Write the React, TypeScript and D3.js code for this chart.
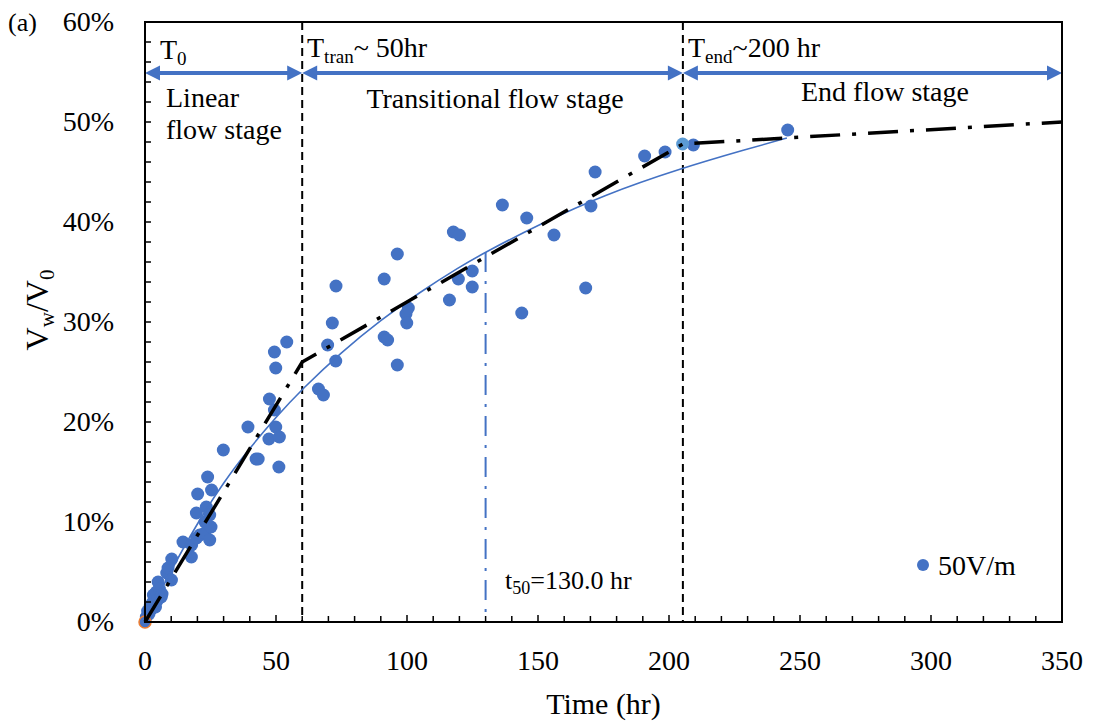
import React from "react";
import * as d3 from "d3";

const W = 1093;
const H = 724;
const M = { left: 145, top: 22, right: 1062, bottom: 622 };

// scatter data (time hr, Vw/V0 %)
const pointsT = [
  0.5, 1, 1.5, 2, 2.5, 3, 3.2, 4, 4.3, 4.8, 5, 5.5, 6.2, 6.5, 8.3, 8.8, 10.1, 10.2,
  14.5, 17.7, 17.8, 19.6, 20.1, 19.7, 20.9, 22.8, 22.9, 23.4, 23.9, 24.7, 24.7, 25.2, 25.4,
  29.9, 39.3, 42.4, 43.2, 47.3, 47.5, 49.4, 49.4, 49.9, 49.9, 51.1, 51.3, 54.1,
  66.2, 68.1, 69.7, 71.5, 72.8, 72.9, 91.3, 91.3, 92.6, 96.3, 96.3, 99.6, 99.9, 100.5,
  116.2, 117.7, 119.6, 120, 124.9, 124.9,
  136.4, 143.8, 145.7, 156.1, 168.2, 170.2, 171.8, 190.7, 198.5, 209.3, 245.3,
];
const pointsV = [
  0.5, 1.1, 0.8, 1.6, 1.3, 2.0, 2.7, 1.5, 3.0, 2.2, 4.0, 3.3, 2.5, 2.8, 4.9, 5.4, 4.2, 6.3,
  8.0, 6.5, 7.7, 10.9, 12.8, 8.4, 8.7, 8.9, 10.0, 11.5, 14.5, 8.2, 10.7, 9.5, 13.2,
  17.2, 19.5, 16.3, 16.3, 18.3, 22.3, 21.2, 27.0, 25.4, 19.5, 15.5, 18.5, 28.0,
  23.3, 22.7, 27.7, 29.9, 26.1, 33.6, 34.3, 28.5, 28.2, 36.8, 25.7, 30.8, 29.9, 31.4,
  32.2, 39.0, 34.3, 38.7, 35.1, 33.5,
  41.7, 30.9, 40.4, 38.7, 33.4, 41.6, 45.0, 46.6, 47.0, 47.7, 49.2,
];
const highlightT = [205.2];
const highlightV = [47.8];
const originT = [0];
const originV = [0];

// fitted curve
const fitT = [0, 10, 20, 30, 40, 50, 60, 75, 90, 105, 120, 130, 150, 175, 205, 230, 245];
const fitV = [0, 5.2, 9.9, 14.0, 17.4, 20.5, 23.3, 27.0, 30.2, 33.0, 35.5, 37.0, 39.7, 42.7, 45.4, 47.3, 48.4];

// stage (piecewise) line
const stageT = [0, 60, 205.3, 350];
const stageV = [0, 26.0, 47.8, 50.0];

const stageBounds = [0, 60, 205.3, 350];
const t50 = 130;
const t50V = 37.0;

const xTicks = [0, 50, 100, 150, 200, 250, 300, 350];
const yTicks = [0, 10, 20, 30, 40, 50, 60];

const FONT = "'Liberation Serif', 'Times New Roman', serif";
const BLUE = "#4472C4";

export default function App() {
  const x = d3.scaleLinear().domain([0, 350]).range([M.left, M.right]);
  const y = d3.scaleLinear().domain([0, 60]).range([M.bottom, M.top]);

  const fitLine = d3
    .line<number>()
    .x((d, i) => x(fitT[i]))
    .y((d) => y(d))
    .curve(d3.curveBasis)(fitV);
  const stageLine = d3
    .line<number>()
    .x((d, i) => x(stageT[i]))
    .y((d) => y(d))(stageV);

  const minorX = d3.range(0, 351, 10);
  const minorY = d3.range(0, 61, 2);
  const arrowY = 73;

  const arrow = (x0: number, x1: number, key: string) => {
    const ah = 15;
    const hw = 7.5;
    return (
      <g key={key}>
        <line x1={x0 + ah - 2} x2={x1 - ah + 2} y1={arrowY} y2={arrowY} stroke={BLUE} strokeWidth={4} />
        <polygon points={`${x0},${arrowY} ${x0 + ah},${arrowY - hw} ${x0 + ah},${arrowY + hw}`} fill={BLUE} />
        <polygon points={`${x1},${arrowY} ${x1 - ah},${arrowY - hw} ${x1 - ah},${arrowY + hw}`} fill={BLUE} />
      </g>
    );
  };

  return (
    <svg width={W} height={H} style={{ position: "absolute", left: 0, top: 0, background: "#fff" }} fontFamily={FONT}>
      <rect x={0} y={0} width={W} height={H} fill="#fff" />
      {/* (a) */}
      <text x={8} y={31} fontSize={26} fill="#000">(a)</text>

      {/* stage dashed boundaries */}
      {[stageBounds[1], stageBounds[2]].map((b, i) => (
        <line key={"b" + i} x1={x(b)} x2={x(b)} y1={M.top} y2={M.bottom} stroke="#000" strokeWidth={2} strokeDasharray="8 5" />
      ))}

      {/* arrows */}
      {arrow(x(stageBounds[0]), x(stageBounds[1]), "a1")}
      {arrow(x(stageBounds[1]), x(stageBounds[2]), "a2")}
      {arrow(x(stageBounds[2]), x(stageBounds[3]), "a3")}

      {/* stage labels */}
      <text x={160} y={59} fontSize={28} fill="#000">
        T<tspan fontSize={19} dy={6}>0</tspan>
      </text>
      <text x={307} y={57} fontSize={28} fill="#000">
        T<tspan fontSize={19} dy={6}>tran</tspan>
        <tspan dy={-6}>~ 50hr</tspan>
      </text>
      <text x={688} y={57} fontSize={28} fill="#000">
        T<tspan fontSize={19} dy={6}>end</tspan>
        <tspan dy={-6}>~200 hr</tspan>
      </text>
      <text x={166} y={107} fontSize={28} fill="#000">Linear</text>
      <text x={166} y={139} fontSize={28} fill="#000">flow stage</text>
      <text x={495} y={108} fontSize={28} fill="#000" textAnchor="middle">Transitional flow stage</text>
      <text x={885} y={101} fontSize={28} fill="#000" textAnchor="middle">End flow stage</text>

      {/* t50 line */}
      <line x1={x(t50)} x2={x(t50)} y1={y(t50V)} y2={M.bottom} stroke={BLUE} strokeWidth={2} strokeDasharray="20 9 3 9" />
      <text x={505} y={589} fontSize={26} fill="#000">
        t<tspan fontSize={18} dy={5}>50</tspan>
        <tspan dy={-5}>=130.0 hr</tspan>
      </text>

      {/* scatter */}
      {pointsV.map((v, i) => (
        <circle key={"p" + i} cx={x(pointsT[i])} cy={y(v)} r={6.5} fill={BLUE} />
      ))}
      {originV.map((v, i) => (
        <circle key={"o" + i} cx={x(originT[i])} cy={y(v)} r={6} fill={BLUE} stroke="#ED7D31" strokeWidth={1.5} />
      ))}
      {highlightV.map((v, i) => (
        <circle key={"h" + i} cx={x(highlightT[i])} cy={y(v)} r={6.5} fill="#5B9BD5" />
      ))}

      {/* fit curve */}
      <path d={fitLine || ""} fill="none" stroke={BLUE} strokeWidth={1.6} />
      {/* stage line */}
      <path d={stageLine || ""} fill="none" stroke="#000" strokeWidth={3.5} strokeDasharray="30 12 4 12" />

      {/* frame */}
      <rect x={M.left} y={M.top} width={M.right - M.left} height={M.bottom - M.top} fill="none" stroke="#000" strokeWidth={2} />

      {/* ticks */}
      {minorX.map((t) => (
        <line key={"tx" + t} x1={x(t)} x2={x(t)} y1={M.bottom} y2={M.bottom - (t % 50 === 0 ? 7 : 6)} stroke="#000" strokeWidth={1.5} />
      ))}
      {minorY.map((t) => (
        <line key={"ty" + t} x1={M.left} x2={M.left + 6} y1={y(t)} y2={y(t)} stroke="#000" strokeWidth={1.5} />
      ))}
      {xTicks.map((t) => (
        <text key={"lx" + t} x={x(t)} y={670} fontSize={28} textAnchor="middle" fill="#000">{t}</text>
      ))}
      {yTicks.map((t) => (
        <text key={"ly" + t} x={114} y={y(t) + 9} fontSize={28} textAnchor="end" fill="#000">{t}%</text>
      ))}

      {/* axis titles */}
      <text x={(M.left + M.right) / 2} y={714} fontSize={30} textAnchor="middle" fill="#000">Time (hr)</text>
      <text transform={`translate(48,${310}) rotate(-90)`} fontSize={32} textAnchor="middle" fill="#000">
        V<tspan fontSize={21} dy={6}>w</tspan>
        <tspan dy={-6}>/V</tspan>
        <tspan fontSize={21} dy={6}>0</tspan>
      </text>

      {/* legend */}
      <circle cx={923} cy={565} r={6} fill={BLUE} />
      <text x={938} y={575} fontSize={28} fill="#000">50V/m</text>
    </svg>
  );
}
